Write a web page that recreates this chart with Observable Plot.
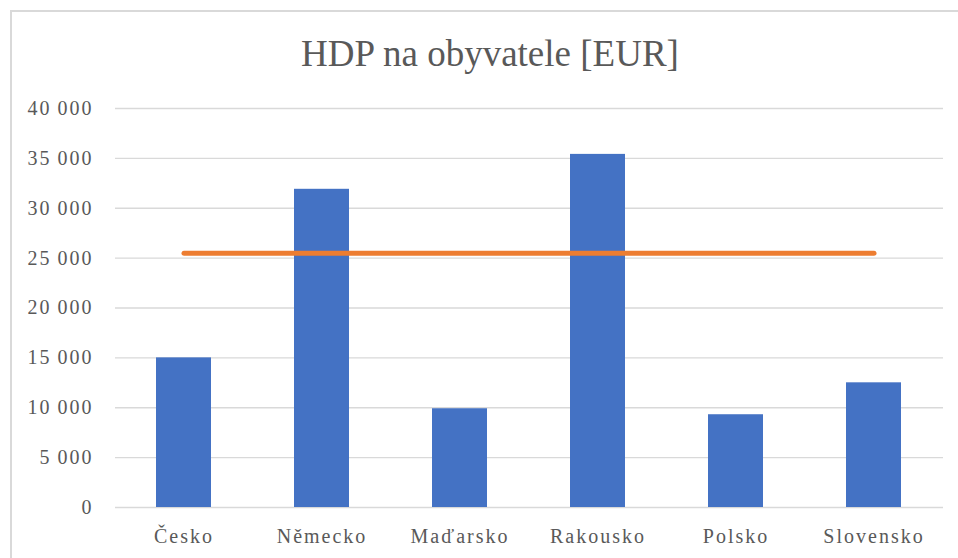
<!DOCTYPE html>
<html>
<head>
<meta charset="utf-8">
<script src="https://cdn.jsdelivr.net/npm/d3@7"></script>
<script src="https://cdn.jsdelivr.net/npm/@observablehq/plot@0.6"></script>
<style>
  html, body { margin: 0; padding: 0; background: #fff; overflow: hidden; }
  #wrap { position: relative; width: 958px; height: 558px; overflow: hidden; }
  #frame { position: absolute; left: 10px; top: 10px; width: 1000px; height: 600px;
           border: 2px solid #d9d9d9; box-sizing: border-box; }
  #title { position: absolute; left: 0; top: 32px; width: 980px; text-align: center;
           font-family: "Liberation Serif", Tinos, "Times New Roman", "DejaVu Serif", serif;
           font-size: 37px; color: #595959; }
  #chart { position: absolute; left: 0; top: 90px; }
  #chart svg text { font-family: "Liberation Serif", Tinos, "Times New Roman", "DejaVu Serif", serif;
                    letter-spacing: 2px; }
</style>
</head>
<body>
<div id="wrap">
  <div id="frame"></div>
  <div id="title">HDP na obyvatele [EUR]</div>
  <div id="chart"></div>
</div>
<script>
const countries = ["Česko", "Německo", "Maďarsko", "Rakousko", "Polsko", "Slovensko"];
const gdpPerCapita = [15000, 31900, 9900, 35400, 9300, 12500];
const average = 25500;
const yTicks = [0, 5000, 10000, 15000, 20000, 25000, 30000, 35000, 40000];

const bars = countries.map((c, i) => ({country: c, value: gdpPerCapita[i]}));
const avgLine = countries.map(c => ({country: c, value: average}));

const fmt = d3.formatLocale({thousands: "\u2009", grouping: [3], decimal: ","}).format(",");

const chart = Plot.plot({
  width: 958,
  height: 468,
  marginTop: 18,
  marginBottom: 51,
  marginLeft: 115,
  marginRight: 15,
  style: {fontFamily: "'Liberation Serif', Tinos, 'Times New Roman', 'DejaVu Serif', serif", fontSize: "20px", color: "#595959", background: "transparent"},
  x: {domain: countries, paddingInner: 0.6, paddingOuter: 0.3, label: null},
  y: {domain: [0, 40000], label: null},
  marks: [
    Plot.ruleY(yTicks, {stroke: "#d9d9d9", strokeWidth: 1.3}),
    Plot.axisY({ticks: yTicks, tickFormat: fmt, tickSize: 0, tickPadding: 22, label: null, fill: "#595959"}),
    Plot.axisX({tickSize: 0, tickPadding: 21, label: null, fill: "#595959"}),
    Plot.barY(bars, {x: "country", y: "value", fill: "#4472c4"}),
    Plot.lineY(avgLine, {x: "country", y: "value", stroke: "#ed7d31", strokeWidth: 5, strokeLinecap: "round"})
  ]
});
document.getElementById("chart").appendChild(chart);
</script>
</body>
</html>
